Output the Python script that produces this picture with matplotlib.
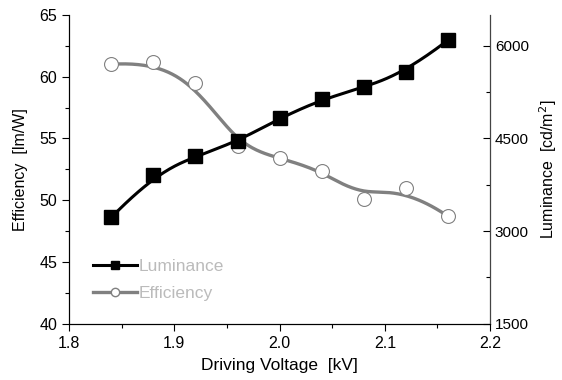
import numpy as np
import matplotlib.pyplot as plt
from matplotlib.ticker import MultipleLocator

plt.rcParams['font.family'] = ['Liberation Sans', 'DejaVu Sans']
plt.rcParams['font.size'] = 11

voltage = np.array([1.84, 1.88, 1.92, 1.96, 2.00, 2.04, 2.08, 2.12, 2.16])
efficiency = np.array([61.0, 61.2, 59.5, 54.4, 53.4, 52.4, 50.1, 51.0, 48.7])
luminance = np.array([3220, 3915, 4210, 4450, 4825, 5130, 5325, 5570, 6090])

col_lum = 'black'
col_eff = '#808080'


def bspline(x, y, n=300):
    # clamped cubic B-spline with the data as control points
    p = np.column_stack([x, y])
    k = 3
    m = len(p)
    knots = np.concatenate([np.zeros(k), np.linspace(0, 1, m - k + 1), np.ones(k)])
    t = np.linspace(0, 1 - 1e-9, n)

    def basis(i, kk, tt):
        if kk == 0:
            return ((knots[i] <= tt) & (tt < knots[i + 1])).astype(float)
        a = 0.0
        d1 = knots[i + kk] - knots[i]
        d2 = knots[i + kk + 1] - knots[i + 1]
        if d1 > 0:
            a = a + (tt - knots[i]) / d1 * basis(i, kk - 1, tt)
        if d2 > 0:
            a = a + (knots[i + kk + 1] - tt) / d2 * basis(i + 1, kk - 1, tt)
        return a

    B = np.array([basis(i, k, t) for i in range(m)])
    c = B.T @ p
    return c[:, 0], c[:, 1]


fig = plt.figure(figsize=(5.62, 3.8), dpi=100)
ax = fig.add_axes([0.123, 0.148, 0.749, 0.813])
ax2 = ax.twinx()

ex, ey = bspline(voltage, efficiency)
ax.plot(ex, ey, color=col_eff, lw=2.4, zorder=1)
ax.plot(voltage, efficiency, 'o', ms=10, mfc='white', mec=col_eff, mew=0.8, zorder=2)

lx, ly = bspline(voltage, luminance)
ax2.plot(lx, ly, color=col_lum, lw=2.2, zorder=1)
ax2.plot(voltage, luminance, 's', ms=9.5, color=col_lum, zorder=2)

ax.set_xlim(1.8, 2.2)
ax.set_ylim(40, 65)
ax2.set_ylim(1500, 6500)
ax.xaxis.set_major_locator(MultipleLocator(0.1))
ax.xaxis.set_minor_locator(MultipleLocator(0.05))
ax.yaxis.set_major_locator(MultipleLocator(5))
ax.yaxis.set_minor_locator(MultipleLocator(2.5))
ax2.set_yticks([1500, 3000, 4500, 6000])
ax2.yaxis.set_minor_locator(MultipleLocator(750))

ax.tick_params(which='major', direction='out', length=5, width=0.8, labelsize=11.5)
ax.tick_params(which='minor', direction='out', length=3, width=0.8)
ax2.tick_params(which='major', direction='in', length=5, width=0.8, labelsize=11)
ax2.tick_params(which='minor', direction='in', length=3, width=0.8)

for a in (ax, ax2):
    a.spines['top'].set_visible(False)
ax2.spines['right'].set_color('#444444')

ax.set_xlabel('Driving Voltage  [kV]', fontsize=12.5, labelpad=5)
ax.set_ylabel('Efficiency  [lm/W]', fontsize=11.5, labelpad=8)
ax2.set_ylabel('Luminance  [cd/m$^2$]', fontsize=11.5, labelpad=6)

h1, = ax.plot([], [], '-s', color=col_lum, lw=2.2, ms=6)
h2, = ax.plot([], [], '-o', color=col_eff, lw=2.4, ms=6, mfc='white', mec=col_eff)
leg = ax.legend([h1, h2], ['Luminance', 'Efficiency'], loc='center left',
                bbox_to_anchor=(0.057, 0.142), frameon=False, handlelength=2.5,
                handletextpad=0.1, labelspacing=0.65, borderpad=0, borderaxespad=0,
                fontsize=12.5)
for t in leg.get_texts():
    t.set_color('#bbbbbb')

fig.savefig('out.png', dpi=100)
